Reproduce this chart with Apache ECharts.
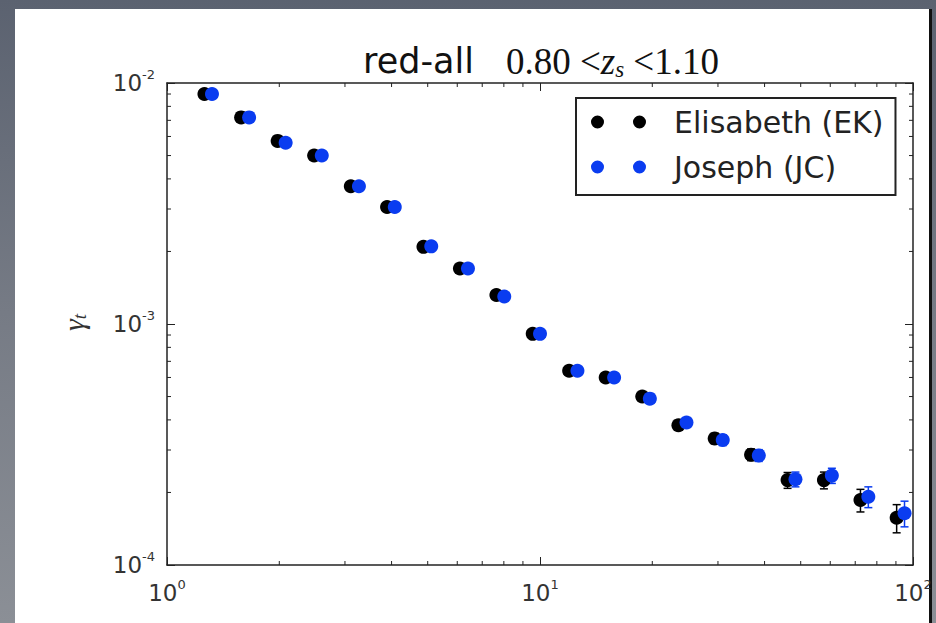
<!DOCTYPE html>
<html>
<head>
<meta charset="utf-8">
<script src="https://cdn.jsdelivr.net/npm/echarts@6/dist/echarts.min.js"></script>
<style>
html,body{margin:0;padding:0;width:936px;height:623px;overflow:hidden;background:linear-gradient(180deg,#5b6270 0%,#767b85 50%,#8b8f96 100%);}
#panel{position:absolute;left:15px;top:9px;width:914px;height:614px;background:#fff;border-right:3px solid #111;}
#main{position:absolute;left:0;top:0;width:936px;height:623px;}
</style>
</head>
<body>
<div id="panel"></div>
<div id="main"></div>
<script>
var myChart = echarts.init(document.getElementById('main'), null, { renderer: 'svg' });

// radius bins (x) and shear values (y)
var xEK = [1.26, 1.58, 1.98, 2.48, 3.11, 3.89, 4.87, 6.10, 7.64, 9.56, 11.97, 15.0, 18.8, 23.5, 29.4, 36.8, 46.1, 57.7, 72.3, 90.4];
var yEK = [9.0e-3, 7.2e-3, 5.75e-3, 5.0e-3, 3.73e-3, 3.06e-3, 2.09e-3, 1.70e-3, 1.32e-3, 9.1e-4, 6.4e-4, 6.0e-4, 5.0e-4, 3.8e-4, 3.35e-4, 2.87e-4, 2.25e-4, 2.25e-4, 1.86e-4, 1.57e-4];
var errEK = [4e-5, 4e-5, 3.5e-5, 3.5e-5, 3e-5, 3e-5, 2.5e-5, 2.5e-5, 2.5e-5, 2.2e-5, 2.2e-5, 2.0e-5, 2.0e-5, 1.8e-5, 1.7e-5, 1.6e-5, 1.7e-5, 1.8e-5, 2.0e-5, 2.1e-5];

var xJC = [1.32, 1.66, 2.08, 2.60, 3.27, 4.08, 5.11, 6.41, 8.02, 10.0, 12.6, 15.8, 19.7, 24.7, 30.9, 38.6, 48.4, 60.6, 75.9, 94.9];
var yJC = [9.0e-3, 7.2e-3, 5.65e-3, 5.0e-3, 3.73e-3, 3.06e-3, 2.1e-3, 1.70e-3, 1.30e-3, 9.1e-4, 6.4e-4, 6.0e-4, 4.9e-4, 3.9e-4, 3.3e-4, 2.85e-4, 2.27e-4, 2.35e-4, 1.92e-4, 1.64e-4];
var errJC = [4e-5, 4e-5, 3.5e-5, 3.5e-5, 3e-5, 3e-5, 2.5e-5, 2.5e-5, 2.5e-5, 2.2e-5, 2.2e-5, 2.0e-5, 2.0e-5, 1.8e-5, 1.7e-5, 1.6e-5, 1.6e-5, 1.7e-5, 1.9e-5, 2.0e-5];

// axis ranges and minor tick positions
var xRange = [1, 100];
var yRange = [1e-4, 1e-2];
var minorX = [2, 3, 4, 5, 6, 7, 8, 9, 20, 30, 40, 50, 60, 70, 80, 90];
var minorY = [2e-4, 3e-4, 4e-4, 5e-4, 6e-4, 7e-4, 8e-4, 9e-4, 2e-3, 3e-3, 4e-3, 5e-3, 6e-3, 7e-3, 8e-3, 9e-3];

var ink = '#222';
var blue = '#0a3cf0';

function powLabel(v) {
    var e = Math.round(Math.log10(v));
    return '{b|10}{p|' + e + '}';
}
var powRich = {
    b: { fontFamily: 'DejaVu Sans', fontSize: 23, color: '#333', lineHeight: 30, verticalAlign: 'middle' },
    p: { fontFamily: 'DejaVu Sans', fontSize: 13, color: '#333', lineHeight: 14, verticalAlign: 'top' }
};

function logAxis(pos, range, labels, margin) {
    return {
        type: 'log', logBase: 10, position: pos, min: range[0], max: range[1],
        axisLine: { show: true, onZero: false, lineStyle: { color: ink, width: 1.5 } },
        axisTick: { show: true, inside: true, length: 8, lineStyle: { color: ink, width: 1 } },
        axisLabel: labels ? { show: true, margin: margin, formatter: powLabel, rich: powRich } : { show: false },
        splitLine: { show: false },
        minorTick: { show: false }
    };
}

function errSeries(name, xs, ys, es, color) {
    return {
        name: name, type: 'custom', clip: false,
        data: xs.map(function (x, i) { return [x, ys[i], es[i]]; }),
        encode: { x: 0, y: 1 },
        renderItem: function (params, api) {
            var x = api.value(0), y = api.value(1), e = api.value(2);
            var lo = api.coord([x, y - e]), hi = api.coord([x, y + e]);
            var st = { stroke: color, lineWidth: 1.5 };
            return {
                type: 'group', children: [
                    { type: 'line', shape: { x1: lo[0], y1: lo[1], x2: hi[0], y2: hi[1] }, style: st },
                    { type: 'line', shape: { x1: lo[0] - 4, y1: lo[1], x2: lo[0] + 4, y2: lo[1] }, style: st },
                    { type: 'line', shape: { x1: hi[0] - 4, y1: hi[1], x2: hi[0] + 4, y2: hi[1] }, style: st }
                ]
            };
        }
    };
}

function minorSeries(vals, isX) {
    return {
        name: isX ? 'minorX' : 'minorY', type: 'custom', clip: false, silent: true,
        data: vals.map(function (v) { return isX ? [v, yRange[0]] : [xRange[0], v]; }),
        encode: { x: 0, y: 1 },
        renderItem: function (params, api) {
            var v = api.value(isX ? 0 : 1);
            var a, b;
            var st = { stroke: ink, lineWidth: 1 };
            if (isX) {
                a = api.coord([v, yRange[0]]); b = api.coord([v, yRange[1]]);
                return { type: 'group', children: [
                    { type: 'line', shape: { x1: a[0], y1: a[1], x2: a[0], y2: a[1] - 4 }, style: st },
                    { type: 'line', shape: { x1: b[0], y1: b[1], x2: b[0], y2: b[1] + 4 }, style: st }
                ] };
            }
            a = api.coord([xRange[0], v]); b = api.coord([xRange[1], v]);
            return { type: 'group', children: [
                { type: 'line', shape: { x1: a[0], y1: a[1], x2: a[0] + 4, y2: a[1] }, style: st },
                { type: 'line', shape: { x1: b[0], y1: b[1], x2: b[0] - 4, y2: b[1] }, style: st }
            ] };
        }
    };
}

var option = {
    animation: false,
    title: {
        text: '{a|red-all}{m|0.80 <}{i|z}{s|s}{m| <1.10}',
        left: 541, top: 41, textAlign: 'center', padding: 0,
        textStyle: {
            fontWeight: 'normal',
            rich: {
                a: { fontFamily: 'DejaVu Sans', fontWeight: 'normal', fontSize: 35, color: '#111', lineHeight: 40, padding: [0, 32, 0, 0] },
                m: { fontFamily: 'Liberation Serif', fontWeight: 'normal', fontSize: 37, color: '#111', lineHeight: 40 },
                i: { fontFamily: 'Liberation Serif', fontWeight: 'normal', fontStyle: 'italic', fontSize: 37, color: '#111', lineHeight: 40 },
                s: { fontFamily: 'Liberation Serif', fontWeight: 'normal', fontStyle: 'italic', fontSize: 23, color: '#111', lineHeight: 24, verticalAlign: 'bottom' }
            }
        }
    },
    graphic: [{
        type: 'text', left: 58, top: 314, rotation: Math.PI / 2,
        style: {
            text: '{g|γ}{t|t}',
            rich: {
                g: { fontFamily: 'Liberation Serif', fontStyle: 'italic', fontSize: 30, fill: '#333', lineHeight: 32 },
                t: { fontFamily: 'Liberation Serif', fontStyle: 'italic', fontSize: 19, fill: '#333', lineHeight: 14, verticalAlign: 'bottom' }
            }
        }
    }],
    legend: {
        data: ['Elisabeth (EK)', 'Joseph (JC)'],
        orient: 'vertical', left: 576, top: 98,
        padding: [9, 12, 13, 15], itemGap: 15, itemWidth: 55, itemHeight: 13,
        icon: 'path://M0,6.5A6.5,6.5 0 1,0 13,6.5A6.5,6.5 0 1,0 0,6.5ZM42,6.5A6.5,6.5 0 1,0 55,6.5A6.5,6.5 0 1,0 42,6.5Z',
        borderColor: ink, borderWidth: 2, borderRadius: 0,
        selectedMode: false,
        textStyle: { fontFamily: 'DejaVu Sans', fontSize: 30, color: '#222', padding: [0, 0, 0, 23], lineHeight: 30 }
    },
    grid: { left: 167, top: 83, right: 23, bottom: 58 },
    xAxis: [logAxis('bottom', xRange, true, 13), logAxis('top', xRange, false)],
    yAxis: [logAxis('left', yRange, true, 12), logAxis('right', yRange, false)],
    series: [
        minorSeries(minorX, true),
        minorSeries(minorY, false),
        errSeries('EK err', xEK, yEK, errEK, '#000'),
        {
            name: 'Elisabeth (EK)', type: 'scatter', symbolSize: 14,
            data: xEK.map(function (x, i) { return [x, yEK[i]]; }),
            itemStyle: { color: '#000', opacity: 1 }
        },
        errSeries('JC err', xJC, yJC, errJC, blue),
        {
            name: 'Joseph (JC)', type: 'scatter', symbolSize: 14,
            data: xJC.map(function (x, i) { return [x, yJC[i]]; }),
            itemStyle: { color: blue, opacity: 1 }
        }
    ]
};

myChart.setOption(option);
</script>
</body>
</html>
